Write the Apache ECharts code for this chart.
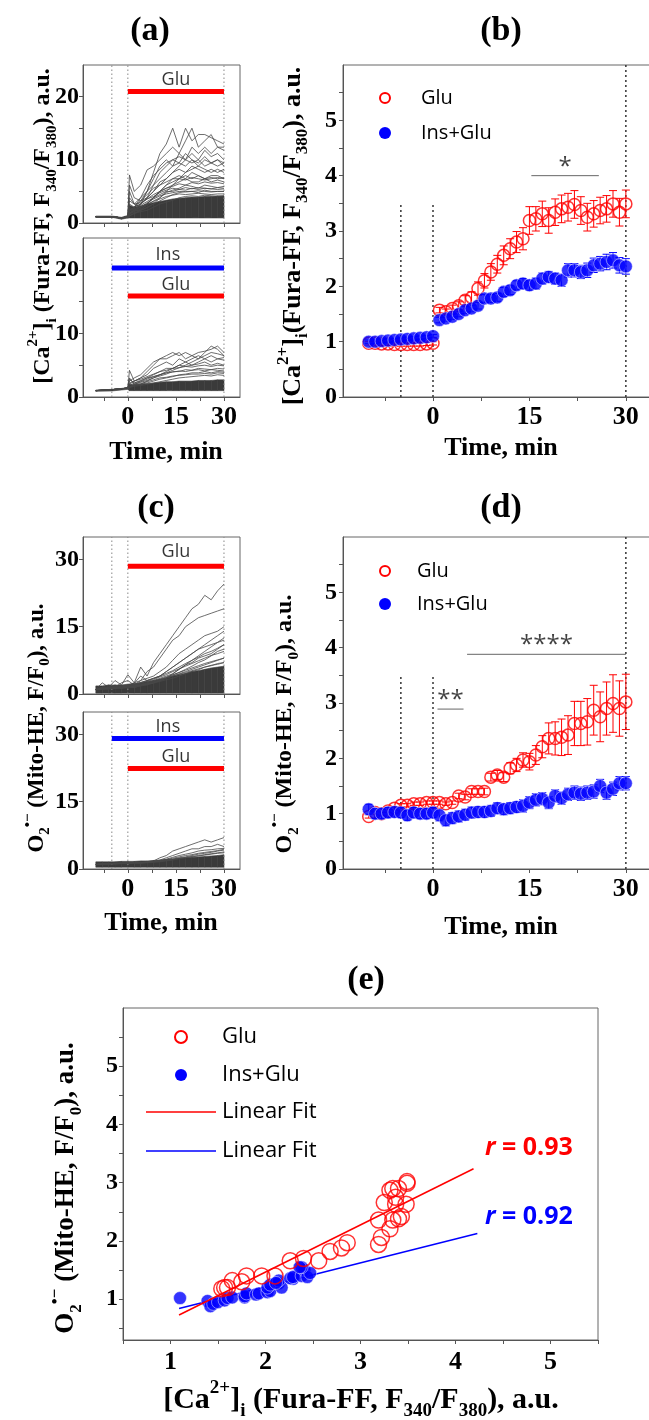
<!DOCTYPE html>
<html><head><meta charset="utf-8">
<script src="https://cdn.jsdelivr.net/npm/echarts@6/dist/echarts.min.js"></script>
<style>html,body{margin:0;padding:0;background:#fff;}#c{width:649px;height:1420px;}</style>
</head><body><div id="c"></div>
<script>
// ---------------- DATA ----------------
const timeAll = [-10,-9,-8,-7,-6,-5,-4,-3,-2,-1,0,1,2,3,4,5,6,7,8,9,10,11,12,13,14,15,16,17,18,19,20,21,22,23,24,25,26,27,28,29,30];
// (b) Ca2+ means
const caGlu = [0.97,0.97,0.96,0.96,0.95,0.95,0.95,0.95,0.95,0.96,0.97,
  1.57,1.54,1.6,1.65,1.75,1.8,1.96,2.1,2.26,2.4,2.56,2.68,2.8,2.86,3.19,3.22,3.31,3.19,3.34,3.4,3.43,3.48,3.37,3.25,3.31,3.37,3.4,3.49,3.34,3.49];
const caGluErr = [0.03,0.03,0.03,0.03,0.03,0.03,0.03,0.03,0.03,0.03,0.03,
  0.05,0.05,0.06,0.07,0.08,0.1,0.12,0.13,0.15,0.16,0.17,0.18,0.19,0.2,0.25,0.22,0.23,0.23,0.24,0.25,0.25,0.25,0.25,0.25,0.24,0.24,0.24,0.24,0.25,0.25];
const caIns = [1.0,1.0,1.01,1.02,1.03,1.04,1.05,1.06,1.07,1.08,1.1,
  1.39,1.42,1.45,1.5,1.57,1.6,1.65,1.78,1.78,1.8,1.9,1.93,2.02,2.05,2.02,2.05,2.14,2.17,2.14,2.11,2.29,2.29,2.26,2.29,2.38,2.41,2.44,2.47,2.38,2.36];
const caInsErr = [0.03,0.03,0.03,0.03,0.03,0.03,0.03,0.03,0.03,0.03,0.03,
  0.05,0.05,0.05,0.05,0.06,0.06,0.06,0.07,0.07,0.07,0.08,0.08,0.08,0.09,0.09,0.1,0.1,0.1,0.1,0.11,0.12,0.12,0.12,0.13,0.13,0.13,0.14,0.14,0.14,0.14];
// (d) O2 means
const oxGlu = [0.95,1.02,1.0,1.05,1.1,1.15,1.15,1.18,1.18,1.2,1.2,
  1.2,1.18,1.2,1.32,1.3,1.4,1.4,1.4,1.66,1.7,1.66,1.82,1.88,1.97,1.94,2.06,2.21,2.36,2.36,2.38,2.42,2.63,2.63,2.66,2.87,2.75,2.9,2.99,2.9,3.02];
const oxGluErr = [0.03,0.03,0.03,0.03,0.03,0.03,0.03,0.03,0.03,0.03,0.03,
  0.03,0.03,0.03,0.05,0.05,0.05,0.05,0.06,0.07,0.08,0.08,0.1,0.12,0.13,0.15,0.17,0.2,0.28,0.3,0.33,0.35,0.4,0.4,0.42,0.45,0.45,0.48,0.52,0.5,0.5];
const oxIns = [1.08,1.0,1.0,1.02,1.03,1.02,0.97,1.02,1.0,1.0,1.02,
  0.97,0.88,0.92,0.95,0.98,1.02,1.03,1.03,1.05,1.1,1.08,1.1,1.12,1.14,1.2,1.25,1.27,1.2,1.32,1.28,1.35,1.38,1.36,1.38,1.4,1.5,1.38,1.45,1.55,1.55];
const oxInsErr = [0.09,0.09,0.09,0.09,0.09,0.09,0.09,0.09,0.09,0.09,0.09,
  0.1,0.1,0.1,0.1,0.1,0.1,0.1,0.1,0.1,0.1,0.1,0.1,0.1,0.11,0.11,0.11,0.11,0.11,0.11,0.11,0.11,0.12,0.12,0.12,0.12,0.12,0.12,0.12,0.12,0.12];
// (e) linear fits (end points)
const fitGlu = [[1.09,0.73],[4.19,3.24]];
const fitIns = [[1.09,0.84],[4.23,2.13]];
const rGlu = 'r = 0.93', rIns = 'r = 0.92';

// (a) single-cell traces
const traceTA = [-10,-5,-2,0,0.5,2,4,6,8,10,12,14,16,18,20,22,24,26,28,30];
const tracesAGlu = [
 [1,1,0.8,1,1.5,2,3,5,8,11,12.5,15,12,15,13,14,14,13.5,13,12.5],
 [1,1,0.8,1,7.6,5,6,8.4,9,10,11,12,11,13,15,12,13,14,12,12],
 [1,1,0.8,1,4,3,4,5,7,9,10,9,11,10,12,11,12,11,12,11.5],
 [1,1,0.8,1,3,2.5,3.5,5,6,7,8,9,9.5,9,10,9,10,9.5,9,9.5],
 [1,1,0.8,1,2,2.5,3,4,5,6.5,7,8,8.5,8,9,8.5,8,8.5,8,8.5],
 [1,1,0.8,1,5,3,2.5,3,4,5,6,7,7.5,7,8,7.5,7,7.5,7.5,7],
 [1,1,0.8,1,1.5,2,2.5,3,4,5,5.5,6,6.5,7,6.5,6.5,7,6.5,6.8,6.5],
 [1,1,0.8,1,1.5,1.8,2.2,2.8,3.5,4,4.8,5.2,5.5,6,5.8,5.5,6,5.8,5.6,5.8],
 [1,1,0.8,1,1.3,1.6,2,2.4,3,3.5,4,4.5,4.8,5,5,4.8,5.2,5,5,5],
 [1,1,0.8,1,1.2,1.5,1.8,2,2.5,3,3.3,3.6,4,4.2,4.3,4.2,4.4,4.3,4.2,4.3],
 [1,1,0.8,1,2.5,2,2,2.5,3,4,5,6,7,8,8.5,9,8.5,8,8.5,8],
 [1,1,0.8,1,1.5,2,3,4,6,8,9,10,10.5,10,11,10,11.5,10.5,11,10],
 [1,1,0.8,1,1.3,1.5,2,3,4,5,6,6.5,7,7.5,7,7.5,7,7.2,7,7.2],
 [1,1,0.8,1,2,2.5,3.5,4.5,5.5,6,6.5,7,7,6.8,7.2,7,6.8,7,7.2,7],
 [1,1,0.8,1,1.8,2.5,3,3.8,4.5,5,5.5,5.8,6.2,6,6.4,6.2,6.5,6.3,6.4,6.2],
 [1,1,0.8,1,3.5,3,3.2,3.8,4.2,4.8,5.2,5.5,5.3,5.6,5.4,5.6,5.5,5.4,5.6,5.5],
 [1,1,0.8,1,1.5,2.2,2.8,3.4,4,4.5,5,5,5.3,5.2,5.5,5.3,5.5,5.4,5.3,5.4],
 [1,1,0.8,1,1.4,1.8,2.5,3.2,3.8,4.3,4.6,4.8,5,4.9,5,5.1,5,4.9,5,5],
 [1,1,0.8,1,2.2,2,2.6,3,3.4,3.8,4.2,4.4,4.6,4.5,4.6,4.7,4.6,4.5,4.6,4.6],
 [1,1,0.8,1,6,4,3.5,4,5,6,7,8,9,10,9.5,10,9,9.5,10,9],
 [1,1,0.8,1,1.5,2.5,4,6,7.5,8.5,9.5,10,9.5,11,10,9.5,10.5,9.5,10,9.5]
];
const bandAGluLow  = [0.9,0.9,0.6,0.8,0.8,0.8,0.8,0.8,0.8,0.8,0.8,0.8,0.8,0.8,0.8,0.8,0.8,0.8,0.8,0.8];
const bandAGluHigh = [1.1,1.1,0.9,1.2,2.8,2.5,2.7,3,3.2,3.4,3.6,3.8,3.9,4,4.1,4.1,4.2,4.2,4.3,4.3];
const tracesAIns = [
 [1,1.15,1.3,1.4,4.2,2.5,3,4,5,6,6.5,7,6.5,7,6.5,7,7.2,7.5,8,7],
 [1,1.15,1.3,1.4,2.5,3,3.5,4.5,5.5,6,6,6.5,7,6,6.5,6,7,8,7.5,6.5],
 [1,1.15,1.3,1.4,2,2.5,3,3.5,4.5,5,5.5,5,6,5.5,6,6.5,6,6.5,6,6.2],
 [1,1.15,1.3,1.4,1.8,2.2,2.6,3,3.5,4,4.5,4.5,5,4.8,5,5.2,5.5,5,5.3,5],
 [1,1.15,1.3,1.4,1.6,2,2.3,2.6,3,3.3,3.6,4,4,4.3,4.2,4.5,4.4,4.3,4.5,4.4],
 [1,1.15,1.3,1.4,1.6,1.8,2,2.2,2.5,2.8,3,3.2,3.5,3.6,3.8,3.8,4,3.8,4,3.9],
 [1,1.15,1.3,1.4,1.5,1.7,1.8,2,2.2,2.4,2.6,2.8,3,3.1,3.2,3.3,3.4,3.3,3.5,3.4],
 [1,1.15,1.3,1.4,3,2,2,2.5,3,3.5,4,4.5,5,5.5,5,5.5,6,5.5,6,5.8],
 [1,1.15,1.3,1.4,2.2,2.5,2.8,3.2,3.6,4,4.2,4.5,4.6,4.8,4.7,4.9,5,4.8,5,4.9],
 [1,1.15,1.3,1.4,1.7,2,2.4,2.8,3.2,3.5,3.8,3.9,4.1,4,4.2,4.3,4.1,4.3,4.2,4.1],
 [1,1.15,1.3,1.4,2.8,2.2,2.5,3,3.2,3.5,3.8,4.2,4.6,5,5.5,6,6.5,7,6.8,6.5],
 [1,1.15,1.3,1.4,1.6,1.9,2.1,2.4,2.7,3,3.1,3.3,3.4,3.5,3.6,3.6,3.7,3.6,3.8,3.7]
];
const bandAInsLow  = [0.9,0.95,1.1,1.2,1,1,1,1,1,1,1,1,1,1,1,1,1,1,1,1];
const bandAInsHigh = [1.1,1.2,1.35,1.5,2,1.9,2,2.1,2.2,2.3,2.4,2.4,2.5,2.5,2.5,2.6,2.6,2.6,2.7,2.7];
// (c) single-cell traces
const traceTC = [-10,-8,-6,-4,-2,0,2,4,6,8,10,12,14,16,18,20,22,24,26,28,30];
const tracesCGlu = [
 [1,2.5,1.5,3,2,4.3,2.5,6,4,7,9,11,13,15,17,19,20,22,21,23,24.5],
 [1,1.5,2,1.5,2.5,3,2,3,5,6,8,10,12,13,15,16,17,17.5,18,18.5,19],
 [1,1.2,1.5,2,1.5,2,2.5,3,3.5,4,5,6,7.5,9,10,11,12,13,13.5,14,15],
 [1,1.2,1.3,1.5,1.5,1.8,2,2.5,3,3.5,4,5,6,7,8,9,10,10.5,11,11.5,12.5],
 [1,1.1,1.2,1.3,1.4,1.5,1.7,2,2.5,3,3.5,4,4.5,5.5,6.5,7,8,8.5,9,10,11],
 [1,1,1.1,1.2,1.3,1.4,1.5,1.8,2,2.5,3,3.5,4,4.5,5,5.5,6,6.5,7,7.5,8],
 [1,1.3,1.1,1.5,1.2,1.6,1.4,1.9,2.2,2.4,2.8,3.2,3.5,4,4.5,5,5.4,6,6.3,6.8,7],
 [1,1.2,1.4,1.2,1.6,1.5,1.7,2,2.2,2.5,3,3.6,4.2,4.8,5.5,6.2,7,7.6,8.5,9.5,10],
 [1,1.3,1.2,1.8,1.5,2,2.2,2.6,3,3.4,4,4.6,5.2,6,6.8,7.5,8.2,9,9.5,10.2,11],
 [1,1.2,1.5,1.4,1.8,2,2.2,2.4,2.8,3.2,3.8,4.3,5,5.6,6.2,6.8,7.4,8,8.6,9,9.5],
 [1,1.2,1.3,1.5,1.6,1.7,1.9,2.2,2.5,2.9,3.3,3.8,4.3,4.8,5.3,5.8,6.3,6.8,7.2,7.6,8],
 [1,1.4,1.2,1.6,1.4,1.8,1.7,2,2.3,2.7,3.2,3.6,4,4.4,4.8,5.2,5.6,6,6.4,6.6,7],
 [1,1.2,1.4,1.3,1.5,1.6,1.8,2,2.2,2.5,3,3.5,4.5,5.5,6.5,7.5,8.5,9.5,10.5,11.5,12],
 [1,1.5,1.2,1.7,1.9,1.8,2.4,4,3,3.5,4,5,6,7,8,9,10,11,12,13,14]
];
const bandCGluLow  = [0.2,0.2,0.2,0.2,0.2,0.2,0.2,0.2,0.2,0.2,0.2,0.2,0.2,0.2,0.2,0.2,0.2,0.2,0.2,0.2,0.2];
const bandCGluHigh = [1.8,1.8,2,2,2,2.2,2.3,2.5,2.8,3,3.3,3.6,4,4.3,4.6,5,5.2,5.5,5.8,6,6.2];
const tracesCIns = [
 [1,1.2,1.3,1.2,1.4,1.3,1.5,1.4,1.6,1.8,2.5,3,4,4.5,5,5.5,6,6.5,6,6.5,7],
 [1,1.1,1.2,1.3,1.2,1.4,1.3,1.5,1.5,1.7,2,2.5,3,3.5,4,4.5,4.5,5,5,5.5,5],
 [1,1.1,1.1,1.2,1.2,1.3,1.3,1.4,1.5,1.6,1.8,2.2,2.6,3,3.3,3.6,4,4.2,4.3,4.5,4.6],
 [1,1,1.1,1.1,1.2,1.2,1.3,1.3,1.4,1.5,1.6,1.8,2,2.3,2.6,2.8,3,3.2,3.4,3.6,3.8],
 [1,1.1,1.2,1.1,1.3,1.2,1.4,1.3,1.5,1.6,1.8,2,2.2,2.5,2.7,3,3.3,3.5,3.7,4,4.2],
 [1,1.2,1.1,1.3,1.3,1.4,1.4,1.5,1.6,1.7,1.9,2.1,2.4,2.7,3,3.2,3.5,3.7,3.9,4.1,4.4],
 [1,1.1,1.2,1.3,1.3,1.3,1.4,1.4,1.5,1.6,1.7,1.9,2.1,2.3,2.5,2.7,2.9,3.1,3.3,3.5,3.6]
];
const bandCInsLow  = [0.4,0.4,0.4,0.4,0.4,0.4,0.4,0.4,0.4,0.4,0.4,0.4,0.4,0.4,0.4,0.4,0.4,0.4,0.4,0.4,0.4];
const bandCInsHigh = [1.6,1.6,1.6,1.6,1.7,1.7,1.7,1.8,1.8,1.9,2,2.1,2.2,2.4,2.5,2.6,2.7,2.8,2.9,3,3.2];

// treatment bars: [label, x0, x1, y, labelY]
const barsA1 = [['Glu',0,30,20.8,22.6]];
const barsA2 = [['Ins',-5,30,20.3,22.3],['Glu',0,30,15.9,17.6]];
const barsC1 = [['Glu',0,30,28.5,31.7]];
const barsC2 = [['Ins',-5,30,29.1,31.6],['Glu',0,30,22.4,25.0]];
// significance: [text, x0, x1, y, textY]
const sigB = [['*',15.3,25.8,4.0,4.15]];
const sigD = [['****',5.3,30,3.88,4.05],['**',0.7,4.75,2.89,3.06]];
// dotted markers
const vlinesTrace = [-5,0,30];
const vlinesMean = [[-5,3.5],[0,3.5],[30,6]];
// axis ticks
const timeLabels = [0,15,30];
const timeTicks = [-7.5,0,7.5,15,22.5,30];

// ---------------- STYLE ----------------
const SERIF = '"Liberation Serif","Times New Roman",serif';
const SANS = '"Open Sans","Noto Sans",sans-serif';
const RED = '#ff0000', BLUE = '#0000ff', AX = '#555', TR = '#3a3a3a';

const grids = [
 {left:83, top:65, width:157, height:158},
 {left:83, top:238, width:157, height:159},
 {left:343, top:65, width:315, height:332},
 {left:83, top:537, width:157, height:157},
 {left:83, top:712, width:157, height:157},
 {left:343, top:537, width:315, height:332},
 {left:123, top:1008, width:475, height:332}
].map(g => Object.assign(g, {show:true, borderColor:'#666', borderWidth:1, containLabel:false, outerBoundsMode:'none'}));

function xTime(i, labels) {
  return {type:'value', gridIndex:i, min:-14, max:35,
    axisLine:{show:true, onZero:false, lineStyle:{color:AX, width:1}},
    axisTick:{show:true, length:4, customValues:timeTicks, lineStyle:{color:AX}},
    axisLabel:{show:labels, customValues:timeLabels, margin:7, fontFamily:SERIF, fontWeight:'bold', fontSize:26, color:'#000'},
    splitLine:{show:false}};
}
function yAx(i, min, max, labels, ticks, size, margin) {
  return {type:'value', gridIndex:i, min, max,
    axisLine:{show:true, onZero:false, lineStyle:{color:AX, width:1}},
    axisTick:{show:true, length:4, customValues:ticks, lineStyle:{color:AX}},
    axisLabel:{customValues:labels, margin, fontFamily:SERIF, fontWeight:'bold', fontSize:size, color:'#000'},
    splitLine:{show:false}};
}
const xAxes = [xTime(0,false), xTime(1,true), xTime(2,true), xTime(3,false), xTime(4,true), xTime(5,true),
  {type:'value', gridIndex:6, min:0.5, max:5.5,
   axisLine:{show:true, onZero:false, lineStyle:{color:AX}},
   axisTick:{show:true, length:4, customValues:[0.5,1,1.5,2,2.5,3,3.5,4,4.5,5,5.5], lineStyle:{color:AX}},
   axisLabel:{customValues:[1,2,3,4,5], margin:9, fontFamily:SERIF, fontWeight:'bold', fontSize:26, color:'#000'},
   splitLine:{show:false}}];
const yAxes = [
  yAx(0,0,25,[0,10,20],[0,5,10,15,20],24,4),
  yAx(1,0,25,[0,10,20],[0,5,10,15,20],24,4),
  yAx(2,0,6,[0,1,2,3,4,5],[0,0.5,1,1.5,2,2.5,3,3.5,4,4.5,5,5.5],24,6),
  yAx(3,0,35,[0,15,30],[0,15,30],24,4),
  yAx(4,0,35,[0,15,30],[0,15,30],24,4),
  yAx(5,0,6,[0,1,2,3,4,5],[0,0.5,1,1.5,2,2.5,3,3.5,4,4.5,5,5.5],24,6),
  yAx(6,0.3,6,[1,2,3,4,5],[0.5,1,1.5,2,2.5,3,3.5,4,4.5,5,5.5],24,5)
];

const series = [];
const base = (i) => ({xAxisIndex:i, yAxisIndex:i, silent:true, animation:false});

function addTraces(i, T, traces, low, high) {
  // dense band of overlapping cells: polygon pieces between consecutive time points
  series.push(Object.assign(base(i), {type:'custom', z:1,
    data: T.slice(0,-1).map((t,k)=>[t, low[k], high[k], T[k+1], low[k+1], high[k+1]]),
    renderItem:(p, api) => {
      const a = api.coord([api.value(0), api.value(1)]), b = api.coord([api.value(3), api.value(4)]);
      const c = api.coord([api.value(3), api.value(5)]), d = api.coord([api.value(0), api.value(2)]);
      return {type:'polygon', shape:{points:[a,b,c,d]}, style:{fill:TR, stroke:TR, lineWidth:0.6}};
    }}));
  traces.forEach(tr => series.push(Object.assign(base(i), {type:'line', data:T.map((t,k)=>[t, tr[k]]), symbol:'none', lineStyle:{width:0.8, color:'#474747'}, z:2})));
}
function addVlinesFull(i, ymax) {
  vlinesTrace.forEach(x => series.push(Object.assign(base(i), {type:'line', data:[[x,0],[x,ymax]], symbol:'none', lineStyle:{color:'#888', width:1, type:[1.5,2.5]}, z:1})));
}
function addBars(i, bars) {
  bars.forEach(b => {
    const col = b[0] === 'Ins' ? BLUE : RED;
    series.push(Object.assign(base(i), {type:'line', data:[[b[1],b[3]],[b[2],b[3]]], symbol:'none', lineStyle:{color:col, width:5, cap:'butt'}, z:5}));
    series.push(Object.assign(base(i), {type:'scatter', symbolSize:0, data:[{value:[(b[1]+b[2])/2, b[4]], name:b[0]}],
      label:{show:true, position:'inside', formatter:'{b}', fontFamily:SANS, fontSize:18, color:'#000'}, z:6}));
  });
}
addTraces(0, traceTA, tracesAGlu, bandAGluLow, bandAGluHigh); addVlinesFull(0,25); addBars(0, barsA1);
addTraces(1, traceTA, tracesAIns, bandAInsLow, bandAInsHigh); addVlinesFull(1,25); addBars(1, barsA2);
addTraces(3, traceTC, tracesCGlu, bandCGluLow, bandCGluHigh); addVlinesFull(3,35); addBars(3, barsC1);
addTraces(4, traceTC, tracesCIns, bandCInsLow, bandCInsHigh); addVlinesFull(4,35); addBars(4, barsC2);

function errSeries(i, t, mean, err, color, z) {
  return Object.assign(base(i), {type:'custom', z,
    data: t.map((x,k)=>[x, mean[k]-err[k], mean[k]+err[k]]),
    renderItem:(p, api) => {
      const x = api.value(0), a = api.coord([x, api.value(1)]), b = api.coord([x, api.value(2)]), c = 4;
      const st = {stroke:color, lineWidth:1};
      return {type:'group', children:[
        {type:'line', shape:{x1:a[0],y1:a[1],x2:b[0],y2:b[1]}, style:st},
        {type:'line', shape:{x1:a[0]-c,y1:a[1],x2:a[0]+c,y2:a[1]}, style:st},
        {type:'line', shape:{x1:b[0]-c,y1:b[1],x2:b[0]+c,y2:b[1]}, style:st}]};
    }});
}
function addMeans(i, gMean, gErr, iMean, iErr, sig) {
  vlinesMean.forEach(v => series.push(Object.assign(base(i), {type:'line', data:[[v[0],0],[v[0],v[1]]], symbol:'none', lineStyle:{color:'#333', width:1.5, type:[2,3]}, z:1})));
  series.push(errSeries(i, timeAll, gMean, gErr, RED, 2));
  series.push(Object.assign(base(i), {type:'scatter', data:timeAll.map((t,k)=>[t,gMean[k]]), symbol:'circle', symbolSize:12,
    itemStyle:{color:'rgba(255,255,255,0)', borderColor:RED, borderWidth:1.5}, z:3}));
  series.push(errSeries(i, timeAll, iMean, iErr, BLUE, 4));
  series.push(Object.assign(base(i), {type:'scatter', data:timeAll.map((t,k)=>[t,iMean[k]]), symbol:'circle', symbolSize:13,
    itemStyle:{color:BLUE, borderColor:'#ffffff', borderWidth:0.6}, z:5}));
  sig.forEach(s => {
    series.push(Object.assign(base(i), {type:'line', data:[[s[1],s[3]],[s[2],s[3]]], symbol:'none', lineStyle:{color:'#666', width:1}, z:6}));
    series.push(Object.assign(base(i), {type:'scatter', symbolSize:0, data:[{value:[(s[1]+s[2])/2, s[4]], name:s[0]}],
      label:{show:true, position:'inside', formatter:'{b}', fontFamily:SANS, fontSize:24, color:'#111'}, z:6}));
  });
}
addMeans(2, caGlu, caGluErr, caIns, caInsErr, sigB);
addMeans(5, oxGlu, oxGluErr, oxIns, oxInsErr, sigD);

// (e) correlation: pairs of mean Ca2+ and O2 at the same time point
const corrGlu = timeAll.map((t,k)=>[caGlu[k], oxGlu[k], t]).filter(p => p[2] >= 1);
const corrIns = timeAll.map((t,k)=>[caIns[k], oxIns[k], t]).filter(p => p[2] >= 0);
series.push(Object.assign(base(6), {type:'line', data:fitIns, symbol:'none', lineStyle:{color:BLUE, width:1.5}, z:2}));
series.push(Object.assign(base(6), {type:'scatter', data:corrIns, symbolSize:13, itemStyle:{color:BLUE, borderColor:'#fff', borderWidth:0.6}, z:3}));
series.push(Object.assign(base(6), {type:'line', data:fitGlu, symbol:'none', lineStyle:{color:RED, width:1.5}, z:4}));
series.push(Object.assign(base(6), {type:'scatter', data:corrGlu, symbolSize:16, itemStyle:{color:'rgba(255,255,255,0)', borderColor:RED, borderWidth:1.5}, z:5}));

// ---------------- TEXT ----------------
function rich(size) {
  const s = Math.round(size*0.64);
  return {
    m:{fontFamily:SERIF, fontWeight:'bold', fontSize:size, lineHeight:Math.round(size*1.4), fill:'#000'},
    sp:{fontFamily:SERIF, fontWeight:'bold', fontSize:s, lineHeight:s, verticalAlign:'top', fill:'#000'},
    sb:{fontFamily:SERIF, fontWeight:'bold', fontSize:s, lineHeight:s, verticalAlign:'bottom', fill:'#000'}
  };
}
const CA1 = '{m|[Ca}{sp|2+}{m|]}{sb|i}{m| (Fura-FF, F}{sb|340}{m|/F}{sb|380}{m|), a.u.}';
const CA2 = '{m|[Ca}{sp|2+}{m|]}{sb|i}{m|(Fura-FF, F}{sb|340}{m|/F}{sb|380}{m|), a.u.}';
const OX = '{m|O}{sb|2}{sp|\u2022\u2212}{m| (Mito-HE, F/F}{sb|0}{m|), a.u.}';
function rt(x, y, rot, text, size) {
  return {type:'text', x, y, rotation:rot, silent:true, style:{text, rich:rich(size), align:'center', verticalAlign:'middle'}};
}
function pt(x, y, text, size, opts) {
  return {type:'text', x, y, silent:true, style:Object.assign({text, fontFamily:SERIF, fontWeight:'bold', fontSize:size, fill:'#000', align:'center', verticalAlign:'middle'}, opts||{})};
}
const R90 = Math.PI/2;
const LEG = {fontFamily:SANS, fontWeight:'normal', align:'left'};
const graphic = [
  pt(150,31,'(a)',34), pt(501,31,'(b)',34), pt(156,508,'(c)',34), pt(501,508,'(d)',34), pt(366,980,'(e)',34),
  rt(43,226,R90,CA1,24), rt(293,236,R90,CA2,26), rt(37,728,R90,OX,23), rt(285,724,R90,OX,24), rt(66,1188,R90,OX,27),
  rt(361,1400,0,CA1,30),
  pt(166,452,'Time, min',26), pt(501,448,'Time, min',26), pt(161,923,'Time, min',26), pt(501,927,'Time, min',26),
  // legends
  {type:'circle', shape:{cx:385, cy:98, r:5}, style:{fill:'none', stroke:RED, lineWidth:2}},
  {type:'circle', shape:{cx:385, cy:133, r:6}, style:{fill:BLUE}},
  pt(421,98,'Glu',20,LEG), pt(421,133,'Ins+Glu',20,LEG),
  {type:'circle', shape:{cx:385, cy:571, r:5}, style:{fill:'none', stroke:RED, lineWidth:2}},
  {type:'circle', shape:{cx:385, cy:604, r:6}, style:{fill:BLUE}},
  pt(417,571,'Glu',20,LEG), pt(417,604,'Ins+Glu',20,LEG),
  {type:'circle', shape:{cx:181, cy:1037, r:6}, style:{fill:'none', stroke:RED, lineWidth:2}},
  {type:'circle', shape:{cx:181, cy:1075, r:6}, style:{fill:BLUE}},
  {type:'line', shape:{x1:146, y1:1112, x2:216, y2:1112}, style:{stroke:RED, lineWidth:1.5}},
  {type:'line', shape:{x1:146, y1:1151, x2:216, y2:1151}, style:{stroke:BLUE, lineWidth:1.5}},
  pt(222,1037,'Glu',22,LEG), pt(222,1075,'Ins+Glu',22,LEG),
  pt(222,1112,'Linear Fit',22,LEG), pt(222,1151,'Linear Fit',22,LEG),
  {type:'text', x:485, y:1148, silent:true, style:{text:'{i|r}{n|' + rGlu.slice(1) + '}', align:'left', verticalAlign:'middle',
    rich:{i:{fontFamily:SANS, fontWeight:'bold', fontStyle:'italic', fontSize:25, fill:RED}, n:{fontFamily:SANS, fontWeight:'bold', fontSize:25, fill:RED}}}},
  {type:'text', x:485, y:1217, silent:true, style:{text:'{i|r}{n|' + rIns.slice(1) + '}', align:'left', verticalAlign:'middle',
    rich:{i:{fontFamily:SANS, fontWeight:'bold', fontStyle:'italic', fontSize:25, fill:BLUE}, n:{fontFamily:SANS, fontWeight:'bold', fontSize:25, fill:BLUE}}}}
];

const chart = echarts.init(document.getElementById('c'), null, {renderer:'canvas'});
chart.setOption({animation:false, backgroundColor:'#fff', grid:grids, xAxis:xAxes, yAxis:yAxes, series, graphic});
</script></body></html>
